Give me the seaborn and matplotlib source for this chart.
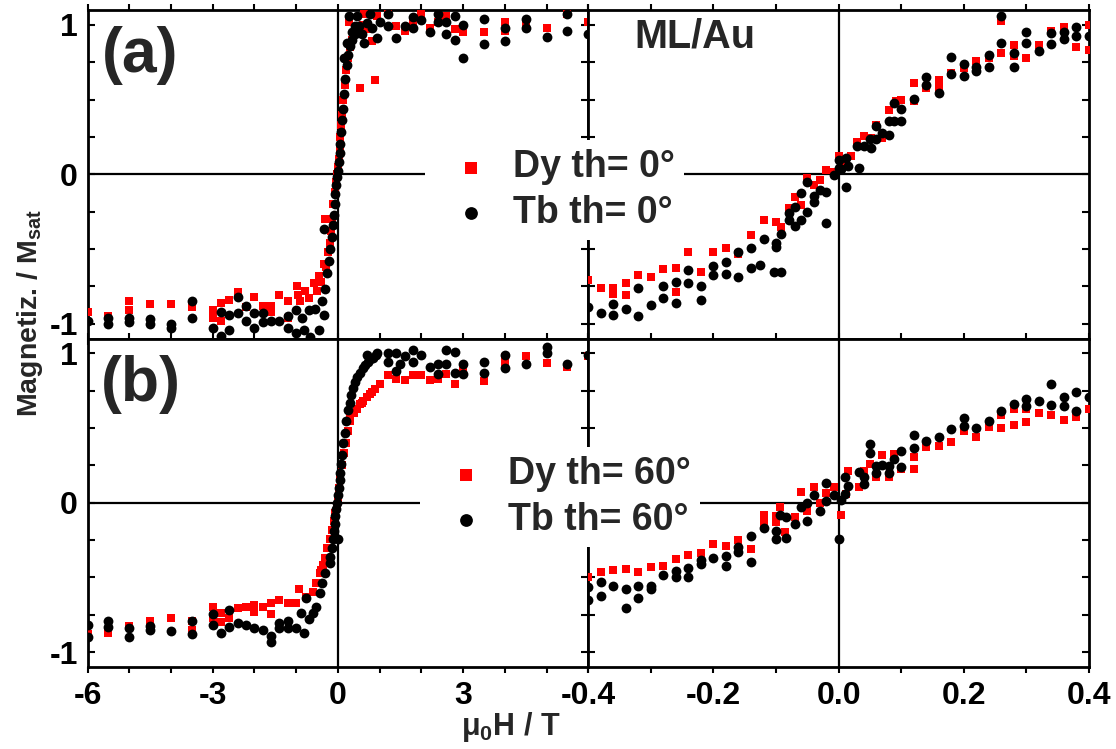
import matplotlib
matplotlib.use("Agg")
import matplotlib.pyplot as plt
import seaborn as sns
import pandas as pd
from matplotlib.ticker import MultipleLocator, FixedLocator

# ---------------- data ----------------
# panel (a), wide field range, Dy th=0 (red squares)
a_dy_wide_x = [-6.0, -5.5, -5.0, -5.0, -4.5, -4.0, -3.5, -3.0, -3.0, -2.8, -2.8, -2.6, -2.4, -2.2, -2.0, -1.8,
               -1.6, -1.6, -1.4, -1.2, -1.2, -0.98, -0.96, -0.9, -0.78, -0.7, -0.58, -0.5, -0.46, -0.4, -0.34,
               -0.31, -0.28, -0.24, -0.2, -0.17, -0.14, -0.11, -0.08, -0.05, -0.03, 0.0, 0.02, 0.04, 0.06, 0.08,
               0.1, 0.13, 0.16, 0.2, 0.24, 0.3, 0.35, 0.4, 0.5, 0.6, 0.7, 0.82,
               0.26, 0.54, 0.88, 0.62, 0.94, 1.2, 1.4, 1.6, 1.8, 2.0, 2.2, 2.4, 2.6, 2.8, 3.0, 3.5, 4.0, 4.0,
               4.5, 5.0, 5.5, 6.0]
a_dy_wide_y = [-0.92, -0.95, -0.85, -0.91, -0.87, -0.87, -0.89, -0.91, -0.96, -0.86, -0.98, -0.84, -0.79, -0.89,
               -0.82, -0.88, -0.88, -0.92, -0.81, -0.85, -0.96, -0.75, -0.81, -0.85, -0.78, -0.83, -0.73, -0.78,
               -0.68, -0.72, -0.60, -0.30, -0.62, -0.52, -0.46, -0.38, -0.30, -0.20, -0.12, -0.05, 0.0, 0.05,
               0.10, 0.17, 0.25, 0.33, 0.40, 0.50, 0.60, 0.70, 0.78, 0.85, 0.90, 0.95, 0.98, 1.0, 0.97, 0.89,
               1.02, 0.58, 0.63, 1.07, 1.06, 1.08, 0.99, 0.96, 1.02, 1.07, 0.98, 1.02, 1.06, 0.97, 0.95, 0.95,
               1.02, 0.96, 1.01, 0.98, 1.07, 1.02]
# panel (a), wide field range, Tb th=0 (black circles)
a_tb_wide_x = [-6.0, -5.5, -5.5, -5.0, -5.0, -4.5, -4.5, -4.0, -4.0, -3.5, -3.5, -3.0, -2.8, -2.8, -2.6, -2.6,
               -2.4, -2.4, -2.2, -2.2, -2.0, -2.0, -1.8, -1.8, -1.6, -1.4, -1.2, -1.2, -1.0, -1.0, -0.85, -0.82,
               -0.7, -0.66, -0.54, -0.46, -0.38, -0.34, -0.34,
               -0.3, -0.26, -0.22, -0.18, -0.15, -0.12, -0.1, -0.08, -0.06, -0.04, -0.02, 0.0, 0.02, 0.04, 0.06,
               0.08, 0.1, 0.12, 0.15, 0.18, 0.21, 0.25, 0.3, 0.35, 0.4, 0.45, 0.5,
               0.14, 0.22, 0.34, 0.42, 0.58, 0.7, 0.82, 0.94, 0.62,
               0.26, 0.46, 0.78, 1.0, 1.2, 1.2, 1.4, 1.6, 1.8, 1.8, 2.0, 2.2, 2.4, 2.4, 2.6, 2.6, 2.8, 2.8, 3.0,
               3.0, 3.5, 3.5, 4.0, 4.0, 4.5, 4.5, 5.0, 5.5, 5.5, 6.0]
a_tb_wide_y = [-0.98, -0.96, -1.0, -0.96, -0.99, -0.97, -1.0, -1.0, -1.03, -0.85, -0.96, -1.03, -0.92, -1.08,
               -0.94, -1.04, -0.82, -0.93, -0.88, -0.98, -0.93, -1.03, -0.93, -0.99, -0.98, -0.98, -0.95, -1.03,
               -0.91, -1.06, -0.96, -1.04, -0.91, -1.09, -0.9, -1.04, -0.85, -0.94, -0.37,
               -0.77, -0.66, -0.58, -0.5, -0.42, -0.34, -0.27, -0.2, -0.13, -0.07, -0.02, 0.02, 0.08, 0.14, 0.2,
               0.28, 0.36, 0.44, 0.54, 0.64, 0.73, 0.8, 0.86, 0.9, 0.94, 0.96, 0.99,
               0.78, 0.88, 0.95, 0.99, 0.94, 1.01, 0.98, 0.91, 0.88,
               1.06, 1.06, 1.07, 1.02, 1.07, 0.99, 0.91, 0.99, 1.05, 0.98, 1.03, 0.95, 1.07, 1.02, 1.02, 0.94,
               1.06, 0.9, 1.0, 0.78, 1.04, 0.87, 0.98, 0.89, 1.04, 0.98, 0.92, 1.07, 0.96, 0.94]
# panel (a), low field range
a_dy_low_x = [-0.4, -0.38, -0.36, -0.36, -0.34, -0.34, -0.32, -0.3, -0.28, -0.26, -0.26, -0.24, -0.22, -0.2,
              -0.18, -0.16, -0.14, -0.12, -0.1, -0.092, -0.08, -0.069, -0.06, -0.05, -0.04, -0.029, -0.02,
              -0.008, 0.0, 0.003, 0.019, 0.03, 0.04, 0.051, 0.06, 0.07, 0.08, 0.091, 0.1, 0.12, 0.12, 0.14,
              0.16, 0.16, 0.18, 0.2, 0.22, 0.24, 0.26, 0.26, 0.28, 0.28, 0.3, 0.32, 0.34, 0.36, 0.38, 0.4, 0.4]
a_dy_low_y = [-0.71, -0.765, -0.76, -0.8, -0.73, -0.81, -0.676, -0.69, -0.635, -0.626, -0.787, -0.519, -0.653,
              -0.519, -0.497, -0.537, -0.407, -0.306, -0.318, -0.35, -0.228, -0.15, -0.206, -0.027, -0.072,
              -0.038, 0.029, 0.018, 0.119, 0.085, 0.119, 0.219, 0.253, 0.242, 0.331, 0.242, 0.432, 0.488, 0.499,
              0.611, 0.488, 0.577, 0.633, 0.577, 0.678, 0.711, 0.76, 0.778, 0.812, 1.029, 0.864, 0.79, 0.778,
              0.864, 0.957, 0.985, 0.85, 0.998, 0.834]
a_tb_low_x = [-0.4, -0.38, -0.36, -0.36, -0.34, -0.32, -0.32, -0.3, -0.28, -0.28, -0.26, -0.26, -0.24, -0.24,
              -0.22, -0.22, -0.2, -0.2, -0.18, -0.18, -0.16, -0.16, -0.14, -0.14, -0.12, -0.125, -0.1, -0.1,
              -0.103, -0.092, -0.092, -0.08, -0.08, -0.069, -0.069, -0.06, -0.06, -0.05, -0.05, -0.04, -0.04,
              -0.029, -0.02, -0.02, -0.008, 0.0, 0.0,
              0.003, 0.011, 0.011, 0.015, 0.03, 0.033, 0.04, 0.05, 0.051, 0.06, 0.06, 0.07, 0.08, 0.08, 0.089,
              0.089, 0.1, 0.1, 0.12, 0.14, 0.14, 0.16, 0.18, 0.18, 0.2, 0.2, 0.22, 0.22, 0.24, 0.24, 0.26, 0.26,
              0.28, 0.28, 0.3, 0.3, 0.32, 0.34, 0.34, 0.36, 0.36, 0.38, 0.38, 0.4]
a_tb_low_y = [-0.888, -0.926, -0.866, -0.944, -0.9, -0.765, -0.95, -0.877, -0.747, -0.828, -0.72, -0.859,
              -0.642, -0.725, -0.747, -0.843, -0.615, -0.676, -0.586, -0.67, -0.519, -0.687, -0.497, -0.631,
              -0.434, -0.609, -0.463, -0.49, -0.653, -0.403, -0.657, -0.262, -0.305, -0.217, -0.344, -0.127,
              -0.306, -0.054, -0.255, -0.143, -0.186, -0.105, -0.121, -0.324, -0.005, 0.096, 0.04,
              0.036, 0.107, -0.083, 0.058, 0.186, 0.04, 0.19, 0.237, 0.175, 0.32, 0.237, 0.275, 0.358, 0.26,
              0.476, 0.358, 0.436, 0.358, 0.505, 0.649, 0.595, 0.544, 0.783, 0.671, 0.738, 0.656, 0.716, 0.69,
              0.801, 0.716, 1.058, 0.879, 0.812, 0.716, 0.953, 0.879, 0.828, 0.946, 0.872, 0.953, 0.908, 0.985,
              0.924, 0.924]
# panel (b), wide field range, Dy th=60
b_dy_wide_x = [-6.0, -5.5, -5.0, -4.5, -4.0, -3.5, -3.5, -3.0, -3.0, -2.8, -2.8, -2.6, -2.4, -2.2, -2.0, -2.0,
               -1.8, -1.6, -1.6, -1.4, -1.2, -1.0, -0.92, -0.76, -0.6, -0.52, -0.44, -0.41, -0.36,
               -0.3, -0.25, -0.2, -0.15, -0.1, -0.06, -0.03, 0.0, 0.03, 0.06, 0.1, 0.15, 0.2, 0.25, 0.3, 0.38,
               0.45, 0.52, 0.6, 0.7, 0.78, 0.88,
               0.3, 0.58, 0.82, 1.0, 1.2, 1.4, 1.6, 1.8, 2.0, 2.2, 2.4, 2.6, 2.8, 3.0, 3.5, 4.0, 4.0, 4.5, 5.0,
               5.5, 6.0]
b_dy_wide_y = [-0.878, -0.874, -0.825, -0.789, -0.773, -0.789, -0.85, -0.696, -0.773, -0.74, -0.8, -0.773,
               -0.707, -0.7, -0.684, -0.73, -0.696, -0.673, -0.745, -0.651, -0.67, -0.673, -0.58, -0.629, -0.6,
               -0.54, -0.47, -0.45, -0.417,
               -0.37, -0.3, -0.24, -0.18, -0.12, -0.07, -0.02, 0.03, 0.1, 0.17, 0.25, 0.33, 0.4, 0.48, 0.55, 0.6,
               0.63, 0.66, 0.68, 0.71, 0.73, 0.76,
               0.565, 0.665, 0.742, 0.798, 0.854, 0.831, 0.82, 0.854, 0.854, 0.82, 0.831, 0.865, 0.798, 0.887,
               0.815, 0.977, 0.93, 0.98, 0.936, 0.906, 0.98]
# panel (b), wide field range, Tb th=60
b_tb_wide_x = [-6.0, -6.0, -5.5, -5.5, -5.0, -5.0, -4.5, -4.5, -4.0, -3.5, -3.5, -3.0, -3.0, -2.8, -2.6, -2.6,
               -2.4, -2.2, -2.0, -1.8, -1.6, -1.6, -1.4, -1.4, -1.2, -1.2, -1.0, -0.88, -0.8, -0.76, -0.68,
               -0.6, -0.52, -0.44, -0.38, -0.3, -0.2, 0.0,
               -0.18, -0.15, -0.12, -0.1, -0.08, -0.06, -0.04, -0.02, 0.0, 0.02, 0.04, 0.06, 0.08, 0.1, 0.13,
               0.16, 0.2, 0.24, 0.28, 0.32, 0.37, 0.42, 0.47, 0.53, 0.6, 0.66, 0.72, 0.78, 0.85, 0.92,
               0.7, 0.94, 1.2, 1.2, 1.4, 1.4, 1.6, 1.5, 1.8, 1.8, 2.0, 2.2, 2.4, 2.4, 2.6, 2.6, 2.8, 2.8, 3.0,
               3.0, 3.5, 3.5, 4.0, 4.0, 4.5, 5.0, 5.0, 5.5, 6.0]
b_tb_wide_y = [-0.818, -0.896, -0.789, -0.83, -0.84, -0.9, -0.825, -0.85, -0.856, -0.789, -0.878, -0.745,
               -0.818, -0.87, -0.718, -0.83, -0.803, -0.818, -0.84, -0.85, -0.93, -0.89, -0.803, -0.84, -0.789,
               -0.84, -0.84, -0.736, -0.874, -0.64, -0.78, -0.74, -0.696, -0.606, -0.54, -0.47, -0.405, -0.24,
               -0.36, -0.3, -0.24, -0.19, -0.14, -0.09, -0.04, 0.0, 0.05, 0.1, 0.15, 0.2, 0.26, 0.32, 0.4, 0.47,
               0.55, 0.62, 0.67, 0.72, 0.77, 0.81, 0.84, 0.87, 0.9, 0.92, 0.94, 0.96, 0.97, 0.99,
               0.988, 1.003, 1.0, 0.943, 1.0, 0.883, 0.98, 0.926, 1.02, 0.94, 0.99, 0.91, 0.93, 0.865, 1.026,
               0.93, 1.01, 0.87, 0.93, 0.86, 0.94, 0.87, 0.988, 0.9, 0.93, 1.044, 1.0, 0.93, 0.99]
# panel (b), low field range
b_dy_low_x = [-0.4, -0.38, -0.36, -0.34, -0.32, -0.3, -0.28, -0.26, -0.24, -0.22, -0.2, -0.18, -0.16, -0.14,
              -0.12, -0.12, -0.1, -0.1, -0.093, -0.085, -0.069, -0.06, -0.05, -0.04, -0.029, -0.02, -0.008,
              0.003, 0.011, 0.015, 0.033, 0.04, 0.05, 0.06, 0.07, 0.08, 0.089, 0.1, 0.12, 0.12, 0.14, 0.16,
              0.18, 0.2, 0.22, 0.24, 0.26, 0.26, 0.28, 0.28, 0.3, 0.3, 0.32, 0.34, 0.36, 0.38, 0.4]
b_dy_low_y = [-0.5, -0.461, -0.45, -0.446, -0.461, -0.432, -0.423, -0.379, -0.35, -0.339, -0.276, -0.29, -0.25,
              -0.312, -0.082, -0.138, -0.089, -0.13, -0.027, -0.194, -0.094, 0.074, -0.053, 0.107, -0.004, 0.063,
              0.107, -0.079, 0.058, 0.214, 0.107, 0.214, 0.259, 0.17, 0.319, 0.17, 0.326, 0.223, 0.308, 0.223,
              0.371, 0.379, 0.408, 0.482, 0.437, 0.508, 0.5, 0.587, 0.52, 0.63, 0.542, 0.625, 0.598, 0.587,
              0.553, 0.571, 0.631]
b_tb_low_x = [-0.4, -0.4, -0.38, -0.38, -0.36, -0.34, -0.34, -0.32, -0.32, -0.3, -0.3, -0.28, -0.26, -0.26,
              -0.24, -0.24, -0.22, -0.22, -0.2, -0.18, -0.18, -0.16, -0.16, -0.14, -0.14, -0.12, -0.1, -0.1,
              -0.093, -0.084, -0.084, -0.069, -0.06, -0.05, -0.05, -0.04, -0.029, -0.02, -0.02, -0.008, 0.0,
              0.003, 0.01, 0.01, 0.015, 0.033, 0.04, 0.04, 0.05, 0.05, 0.06, 0.06, 0.07, 0.08, 0.08, 0.089,
              0.1, 0.1, 0.12, 0.12, 0.14, 0.16, 0.18, 0.2, 0.2, 0.22, 0.24, 0.26, 0.28, 0.3, 0.3, 0.32, 0.34,
              0.34, 0.36, 0.36, 0.38, 0.38, 0.4]
b_tb_low_y = [-0.566, -0.651, -0.528, -0.624, -0.557, -0.58, -0.707, -0.56, -0.64, -0.56, -0.58, -0.484, -0.455,
              -0.5, -0.439, -0.5, -0.383, -0.41, -0.372, -0.357, -0.421, -0.298, -0.33, -0.223, -0.395, -0.171,
              -0.187, -0.245, -0.082, -0.097, -0.238, -0.142, -0.027, 0.0, -0.12, 0.052, -0.053, 0.134, 0.013,
              0.052, -0.245,
              0.018, 0.058, 0.174, 0.112, 0.207, 0.174, 0.125, 0.393, 0.33, 0.245, 0.2, 0.25, 0.245, 0.2, 0.29,
              0.346, 0.237, 0.453, 0.364, 0.415, 0.437, 0.491, 0.565, 0.513, 0.498, 0.549, 0.615, 0.66, 0.692,
              0.646, 0.682, 0.794, 0.653, 0.705, 0.646, 0.742, 0.615, 0.705]

legend_a = ["Dy th= 0°", "Tb th= 0°"]
legend_b = ["Dy th= 60°", "Tb th= 60°"]
wide_ticks = [-6, -3, 0, 3]
low_ticks = [-0.4, -0.2, 0.0, 0.2, 0.4]
y_ticks = [-1, 0, 1]

# ---------------- style ----------------
sns.set_style("ticks")
FONT = ["Liberation Sans", "DejaVu Sans"]
plt.rcParams["font.family"] = FONT
plt.rcParams["font.weight"] = "bold"
plt.rcParams["axes.unicode_minus"] = False
plt.rcParams["mathtext.fontset"] = "custom"
plt.rcParams["mathtext.rm"] = "Liberation Sans:bold"
plt.rcParams["mathtext.it"] = "Liberation Sans:bold"
plt.rcParams["mathtext.bf"] = "Liberation Sans:bold"
plt.rcParams["mathtext.default"] = "rm"

RED = "#ff0000"
BLACK = "#000000"

fig = plt.figure(figsize=(11.16, 7.49), dpi=100)
L, R = 87.5 / 1116, 1089 / 1116
B, T = 1 - 667 / 749, 1 - 10 / 749
W = (R - L) / 2
H = (T - B) / 2

panels = {
    ("a", 0): (a_dy_wide_x, a_dy_wide_y, a_tb_wide_x, a_tb_wide_y),
    ("a", 1): (a_dy_low_x, a_dy_low_y, a_tb_low_x, a_tb_low_y),
    ("b", 0): (b_dy_wide_x, b_dy_wide_y, b_tb_wide_x, b_tb_wide_y),
    ("b", 1): (b_dy_low_x, b_dy_low_y, b_tb_low_x, b_tb_low_y),
}

handles = {}
for r, key in enumerate(["a", "b"]):
    for c in range(2):
        ax = fig.add_axes([L + c * W, T - (r + 1) * H, W, H])
        dx, dy, tx, ty = panels[(key, c)]
        df_dy = pd.DataFrame({"H": dx, "M": dy})
        df_tb = pd.DataFrame({"H": tx, "M": ty})
        sns.scatterplot(data=df_dy, x="H", y="M", ax=ax, marker="s", color=RED, s=38,
                        linewidth=0, zorder=3, legend=False)
        h_dy = ax.collections[-1]
        sns.scatterplot(data=df_tb, x="H", y="M", ax=ax, marker="o", color=BLACK, s=50,
                        linewidth=0, zorder=4, legend=False)
        h_tb = ax.collections[-1]
        handles[key] = (h_dy, h_tb)
        ax.axhline(0, color="black", lw=1.6, zorder=2)
        ax.axvline(0, color="black", lw=1.6, zorder=2)
        ax.set_ylim(-1.1, 1.1)
        if c == 0:
            ax.set_xlim(-6, 6)
            ax.xaxis.set_major_locator(FixedLocator(wide_ticks))
            ax.xaxis.set_minor_locator(MultipleLocator(1))
        else:
            ax.set_xlim(-0.4, 0.4)
            ax.xaxis.set_major_locator(FixedLocator(low_ticks))
            ax.xaxis.set_minor_locator(MultipleLocator(0.1))
            ax.xaxis.set_major_formatter(matplotlib.ticker.FormatStrFormatter("%.1f"))
        ax.yaxis.set_major_locator(FixedLocator(y_ticks))
        ax.yaxis.set_minor_locator(MultipleLocator(0.25))
        ax.set_xlabel("")
        ax.set_ylabel("")
        for sp in ax.spines.values():
            sp.set_linewidth(2.0)
            sp.set_color("black")
        ax.tick_params(axis="x", which="both", direction="out", top=True, bottom=True,
                       length=4, width=1.5, pad=6, labelsize=23, colors="black")
        ax.tick_params(axis="y", which="both", direction="in", left=True, right=True,
                       length=5, width=1.5, pad=7, labelsize=23, colors="black")
        if r == 0:
            ax.tick_params(axis="x", labelbottom=False)
        if c == 1:
            ax.tick_params(axis="y", labelleft=False)
        for lab in ax.get_xticklabels() + ax.get_yticklabels():
            lab.set_fontweight("bold")
        if c == 0:
            ax.text(0.106, 0.86, "(%s)" % key, transform=ax.transAxes, fontsize=45,
                    fontweight="bold", ha="center", va="center")

fig.text(695 / 1116, 1 - 36 / 749, "ML/Au", fontsize=28.5, fontweight="bold",
         ha="center", va="center")

# legends
LEG_KW = dict(loc="upper left", bbox_transform=fig.transFigure,
              prop={"weight": "bold", "size": 27}, frameon=True,
              facecolor="white", edgecolor="none", framealpha=1, fancybox=False,
              borderpad=0.25, labelspacing=0.25, handlelength=1.95, handletextpad=0.15,
              markerscale=1.3, scatterpoints=1, borderaxespad=0)
leg_a = fig.legend(handles=list(handles["a"]), labels=legend_a,
                   bbox_to_anchor=(425 / 1116, 1 - 140 / 749), **LEG_KW)
leg_b = fig.legend(handles=list(handles["b"]), labels=legend_b,
                   bbox_to_anchor=(420 / 1116, 1 - 447 / 749), **LEG_KW)

fig.text(30 / 1116, 1 - 313 / 749, "Magnetiz. / M$_{sat}$", rotation=90, fontsize=20.5,
         fontweight="bold", ha="center", va="center")
fig.text(511 / 1116, 1 - 735 / 749, "μ$_0$H / T", fontsize=22, fontweight="bold",
         ha="center", va="baseline")

fig.savefig("out.png", dpi=100)
